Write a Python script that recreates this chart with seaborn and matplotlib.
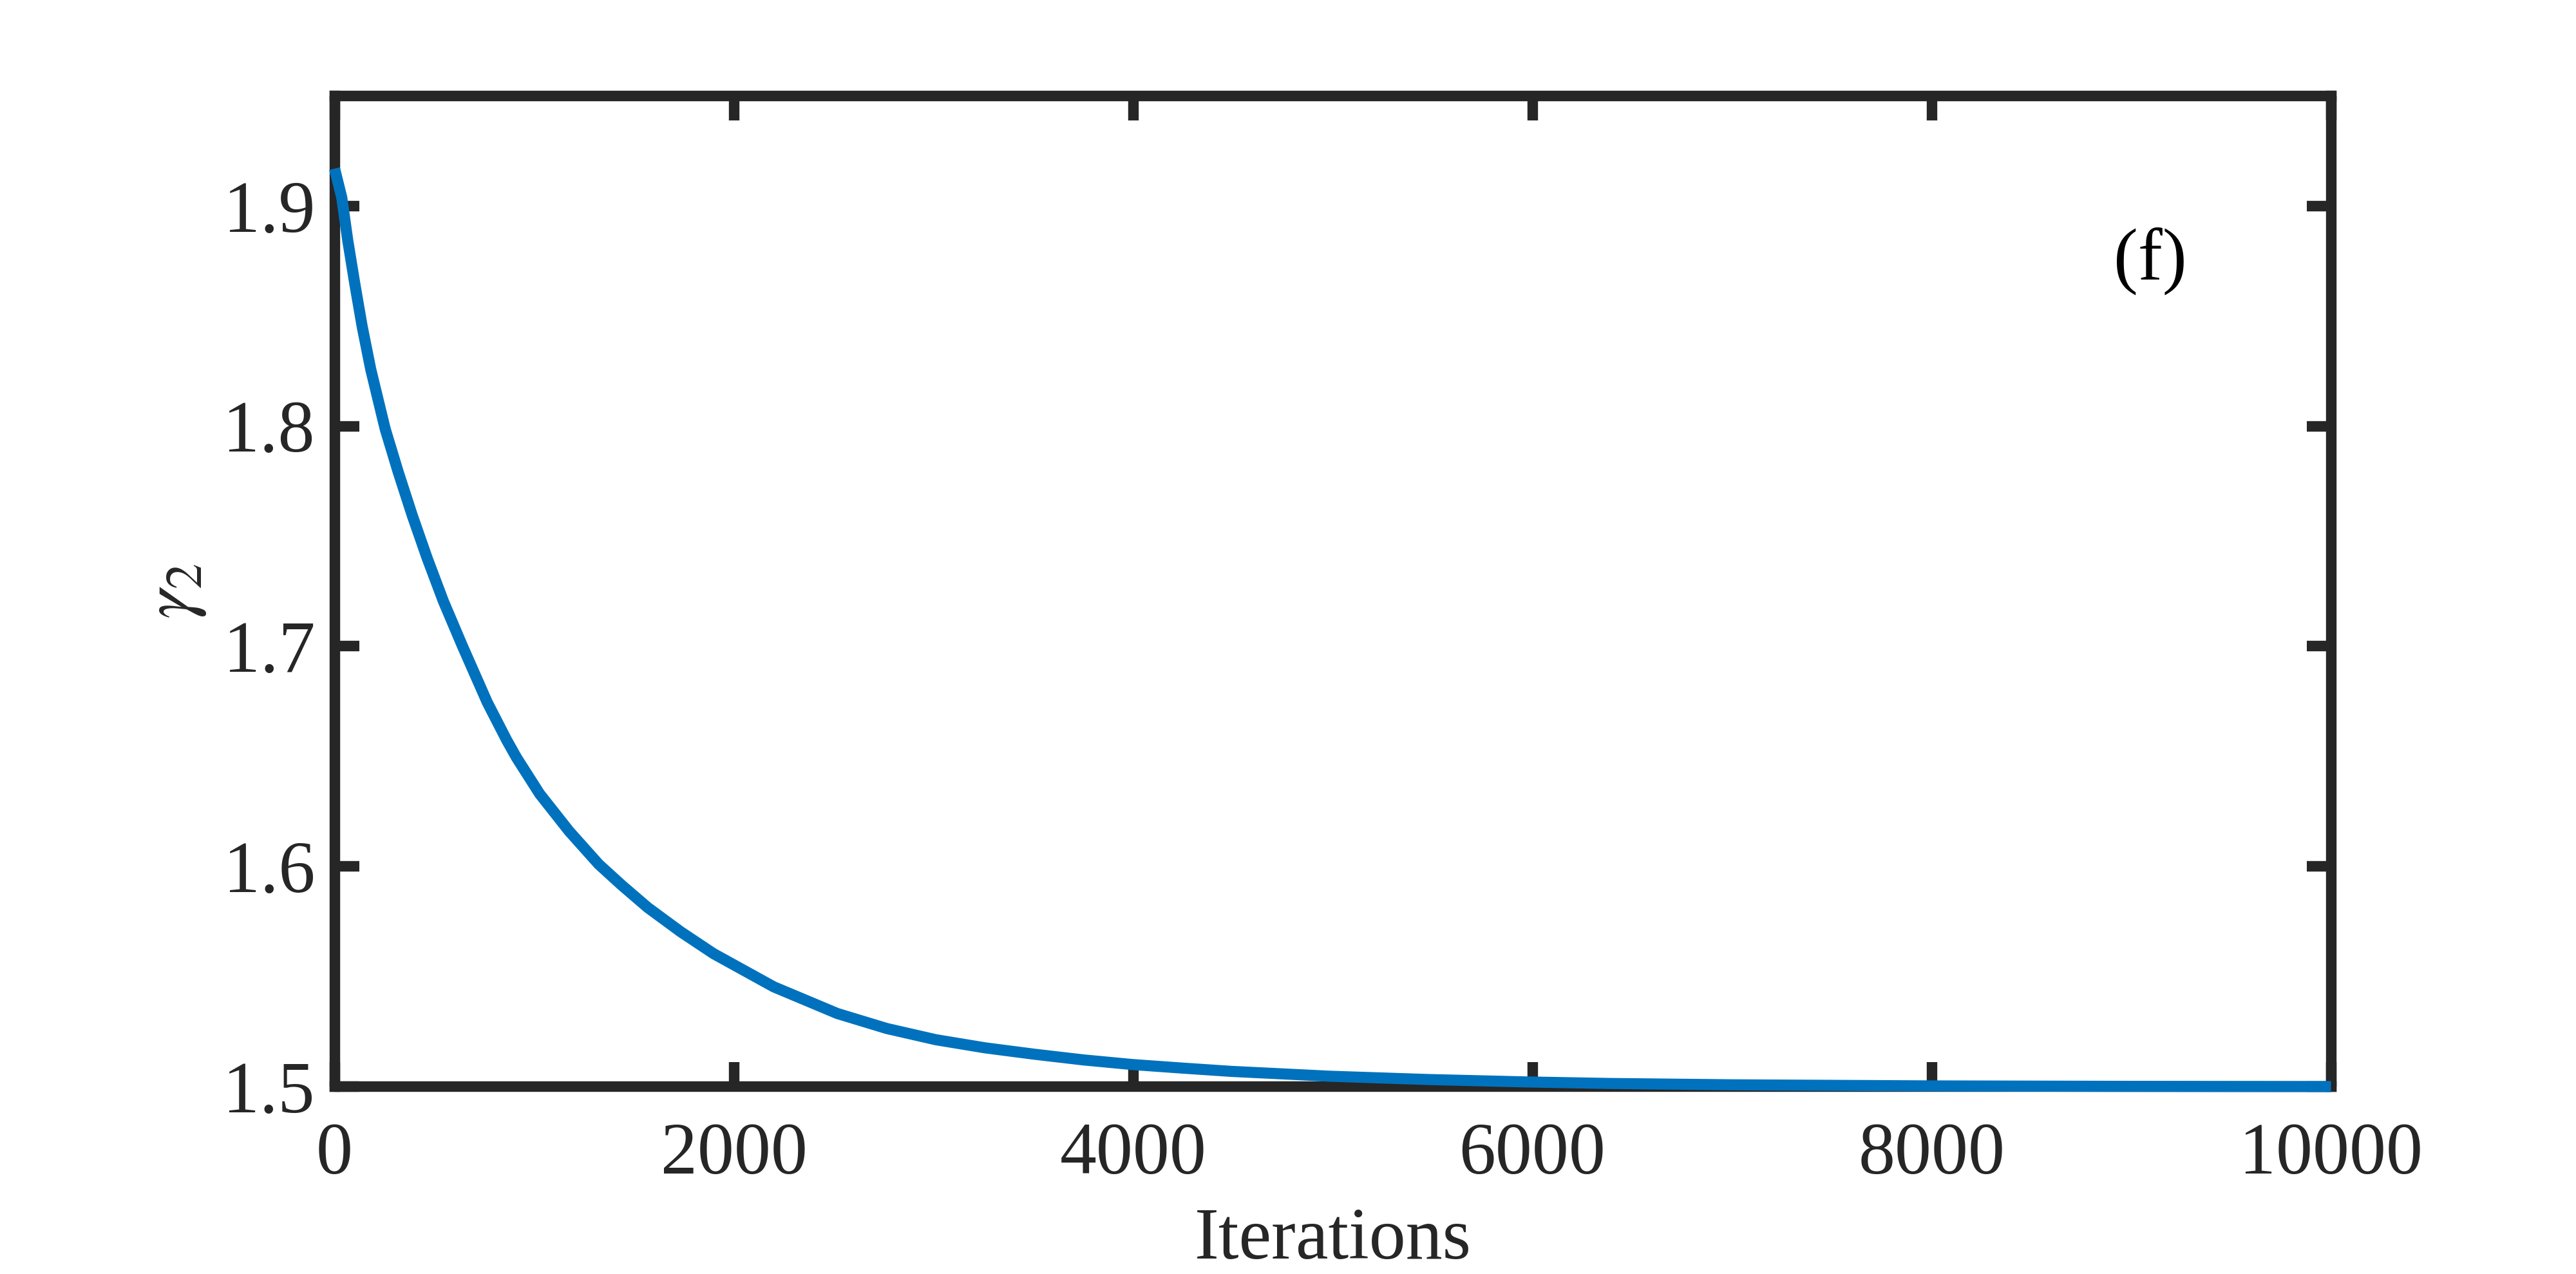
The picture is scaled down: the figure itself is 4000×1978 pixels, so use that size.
"""
Convergence of gamma_2 over the iterations, panel (f)
"""
# Libraries
import matplotlib
matplotlib.use("Agg")
import seaborn as sns
import matplotlib.pyplot as plt

# Seaborn
sns.set_theme(style="white")
plt.rcParams['font.family'] = ['Liberation Serif', 'DejaVu Serif']
plt.rcParams['mathtext.fontset'] = 'stix'

# ---------------------------------
# Data
# ---------------------------------
iterations = [0, 36, 66, 101, 138, 181, 233, 254, 319, 389, 464, 545,
              641, 765, 862, 911, 1027, 1175, 1323, 1438, 1569, 1734,
              1898, 2200, 2518, 2765, 3011, 3258, 3505, 3752, 3998,
              4246, 4492, 4740, 4985, 5479, 5973, 6389, 7000, 8000,
              9000, 10000]
gamma2 = [1.9170, 1.9039, 1.8844, 1.8649, 1.8454, 1.8259, 1.8064, 1.7986,
          1.7791, 1.7595, 1.7400, 1.7205, 1.7000, 1.6745, 1.6574, 1.6495,
          1.6330, 1.6160, 1.6010, 1.5915, 1.5813, 1.5703, 1.5604, 1.5453,
          1.5332, 1.5264, 1.5213, 1.5176, 1.5147, 1.5121, 1.5100, 1.5084,
          1.5069, 1.5058, 1.5047, 1.5032, 1.5021, 1.5014, 1.5008, 1.5003,
          1.5001, 1.5000]

x_ticks = [0, 2000, 4000, 6000, 8000, 10000]
x_tick_labels = ['0', '2000', '4000', '6000', '8000', '10000']
y_ticks = [1.5, 1.6, 1.7, 1.8, 1.9]
y_tick_labels = ['1.5', '1.6', '1.7', '1.8', '1.9']

panel_label = '(f)'
x_label = 'Iterations'
y_label = r'$\gamma_2$'

# Styles
line_color = '#0072BD'
axis_color = '#262626'
lw_axis = 5.9
lw_line = 6.2
fs = 41

# ---------------------------------
# Plot
# ---------------------------------
f = plt.figure(figsize=(20, 9.89), dpi=200)
ax = f.add_axes([0.12988, 0.14712, 0.775, 0.77755])

# Draw line
sns.lineplot(x=iterations, y=gamma2, ax=ax, color=line_color,
             linewidth=lw_line, estimator=None, sort=False, zorder=3,
             clip_on=False, solid_capstyle='butt', solid_joinstyle='round')

# Limits and ticks
ax.set_xlim(0, 10000)
ax.set_ylim(1.5, 1.95)
ax.set_xticks(x_ticks)
ax.set_xticklabels(x_tick_labels)
ax.set_yticks(y_ticks)
ax.set_yticklabels(y_tick_labels)

ax.tick_params(direction='in', length=13.7, width=lw_axis,
               color=axis_color, labelsize=fs, labelcolor=axis_color,
               bottom=True, left=True, top=True, right=True)
ax.tick_params(axis='x', pad=20)
ax.tick_params(axis='y', pad=11)

# Box
for s in ax.spines.values():
    s.set_visible(True)
    s.set_linewidth(lw_axis)
    s.set_color(axis_color)

# Labels
ax.set_xlabel(x_label, fontsize=fs, color=axis_color)
ax.xaxis.set_label_coords(0.5, -0.122)
ax.set_ylabel(y_label, fontsize=fs, color=axis_color)
ax.yaxis.set_label_coords(-0.0634, 0.5)

# Panel tag
ax.text(9095, 1.875, panel_label, ha='center', va='center',
        fontsize=fs, color='black')

# Save
f.savefig('out.png', dpi=200)
